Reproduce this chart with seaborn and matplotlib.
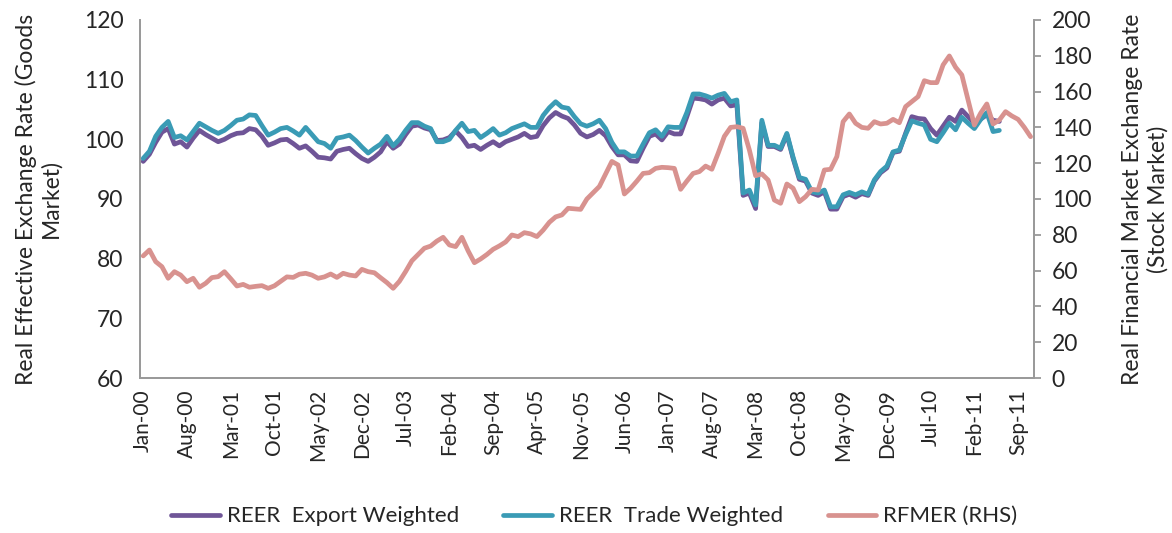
import numpy as np
import pandas as pd
import seaborn as sns
import matplotlib.pyplot as plt

sns.set_style("white")
plt.rcParams["font.family"] = ["Lato", "DejaVu Sans"]

# monthly categories Jan-00 .. Nov-11
months = pd.date_range("2000-01-01", periods=143, freq="MS").strftime("%b-%y").tolist()

reer_trade = [
    96.8, 98.0, 100.5, 102.0, 103.0, 100.3, 100.6, 99.9, 101.3, 102.7,
    102.1, 101.5, 101.0, 101.5, 102.3, 103.2, 103.4, 104.1, 104.0, 102.3,
    100.7, 101.2, 101.8, 102.0, 101.4, 100.7, 102.0, 100.8, 99.6, 99.3,
    98.5, 100.2, 100.4, 100.7, 99.8, 98.7, 97.7, 98.5, 99.2, 100.5,
    98.9, 100.0, 101.5, 102.8, 102.8, 102.2, 101.8, 99.6, 99.6, 100.0,
    101.5, 102.7, 101.3, 101.5, 100.3, 101.0, 101.8, 100.7, 101.1, 101.8,
    102.2, 102.6, 102.0, 102.0, 104.0, 105.3, 106.3, 105.4, 105.2, 103.8,
    102.6, 102.2, 102.6, 103.2, 101.8, 99.5, 97.9, 97.9, 97.2, 97.2,
    99.2, 101.1, 101.6, 100.5, 102.1, 102.0, 102.0, 104.5, 107.6, 107.6,
    107.3, 106.9, 107.4, 107.7, 106.3, 106.6, 91.0, 91.5, 89.0, 103.2,
    99.0, 99.0, 98.5, 101.0, 97.0, 93.6, 93.3, 91.2, 91.0, 91.5,
    88.7, 88.7, 90.7, 91.1, 90.7, 91.2, 90.8, 93.2, 94.6, 95.5,
    97.9, 98.2, 100.8, 103.1, 102.7, 102.4, 100.0, 99.6, 101.1, 102.7,
    101.6, 103.7, 102.7, 101.8, 103.3, 104.5, 101.3, 101.5,
]

reer_export = [
    96.3, 97.5, 99.5, 101.2, 101.8, 99.2, 99.6, 98.7, 100.2, 101.5,
    100.8, 100.2, 99.6, 100.0, 100.6, 101.0, 101.1, 101.8, 101.6, 100.5,
    99.0, 99.4, 99.9, 100.0, 99.3, 98.5, 98.9, 98.0, 97.0, 96.9,
    96.7, 98.0, 98.3, 98.5, 97.6, 96.8, 96.3, 97.0, 97.9, 99.6,
    98.5, 99.2, 100.8, 102.2, 102.4, 101.9, 101.6, 99.8, 99.9, 100.3,
    101.4, 100.3, 98.8, 99.0, 98.3, 99.0, 99.6, 98.9, 99.6, 100.0,
    100.4, 101.0, 100.3, 100.5, 102.3, 103.6, 104.5, 103.9, 103.5, 102.4,
    101.0, 100.4, 100.8, 101.5, 100.6, 98.8, 97.4, 97.4, 96.4, 96.3,
    98.5, 100.5, 100.9, 99.9, 101.3, 100.9, 100.9, 103.8, 106.9, 106.8,
    106.6, 105.9, 106.6, 106.9, 105.6, 105.8, 90.6, 91.0, 88.4, 102.8,
    98.8, 98.8, 98.3, 100.8, 96.8, 93.3, 93.0, 91.0, 90.6, 91.2,
    88.3, 88.3, 90.4, 90.8, 90.3, 90.9, 90.6, 93.0, 94.4, 95.2,
    97.8, 98.0, 101.0, 103.8, 103.5, 103.4, 101.8, 100.7, 102.2, 103.7,
    103.0, 104.9, 103.8, 102.7, 103.4, 104.1, 103.2, 103.0,
]

rfmer = [
    68.2, 71.5, 65.0, 62.2, 55.7, 59.4, 57.5, 53.8, 55.7, 50.7,
    52.9, 56.1, 56.6, 59.4, 55.5, 51.4, 52.3, 50.7, 51.2, 51.6,
    50.1, 51.5, 54.0, 56.5, 56.2, 58.0, 58.5, 57.5, 55.7, 56.5,
    58.1, 56.2, 58.5, 57.5, 57.0, 60.7, 59.4, 58.8, 56.0, 53.3,
    50.1, 54.0, 59.5, 65.5, 69.0, 72.5, 73.7, 76.5, 78.6, 74.3,
    73.4, 78.6, 71.0, 64.4, 66.5, 69.0, 71.9, 73.8, 76.0, 79.9,
    79.0, 81.2, 80.5, 79.0, 82.6, 87.0, 90.0, 91.1, 94.8, 94.5,
    94.2, 100.0, 103.5, 107.0, 114.0, 121.0, 119.0, 102.8, 106.0, 110.0,
    114.3, 114.7, 117.1, 117.7, 117.5, 117.1, 105.4, 110.0, 114.3, 115.3,
    118.4, 116.6, 125.5, 135.0, 140.0, 140.4, 139.5, 127.4, 113.0, 114.0,
    110.6, 99.4, 97.6, 108.4, 106.0, 98.5, 101.3, 105.4, 105.0, 116.2,
    116.6, 123.7, 143.2, 147.5, 142.3, 140.0, 139.5, 143.2, 141.9, 142.3,
    144.5, 142.6, 151.6, 154.4, 157.2, 166.1, 165.0, 165.0, 174.9, 179.9,
    173.6, 169.3, 155.3, 141.3, 147.9, 153.1, 141.9, 144.1, 148.8, 146.4,
    144.5, 140.0, 134.8,
]

left_ticks = [60, 70, 80, 90, 100, 110, 120]
right_ticks = [0, 20, 40, 60, 80, 100, 120, 140, 160, 180, 200]

purple = "#6F5597"
teal = "#3A9BB5"
pink = "#D8928F"
axis_grey = "#9A9A9A"

fig = plt.figure(figsize=(11.72, 5.33), dpi=100)
ax = fig.add_axes([0.1195, 0.2908, 0.7625, 0.6717])
ax2 = ax.twinx()

idx_export = np.arange(len(reer_export))
idx_trade = np.arange(len(reer_trade))
idx_rf = np.arange(len(rfmer))

sns.lineplot(x=idx_export, y=reer_export, ax=ax, color=purple, linewidth=3.4,
             label="REER  Export Weighted", legend=False)
sns.lineplot(x=idx_trade, y=reer_trade, ax=ax, color=teal, linewidth=3.4,
             label="REER  Trade Weighted", legend=False)
sns.lineplot(x=idx_rf, y=rfmer, ax=ax2, color=pink, linewidth=3.4,
             label="RFMER (RHS)", legend=False)

ax.set_xlim(-0.5, len(months) - 0.5)
ax.set_ylim(60, 120)
ax2.set_ylim(0, 200)
ax.set_yticks(left_ticks)
ax2.set_yticks(right_ticks)

tick_pos = np.arange(0, len(months), 7)
ax.set_xticks(tick_pos)
ax.set_xticklabels([months[i] for i in tick_pos], rotation=90)

for a in (ax, ax2):
    a.spines["top"].set_visible(False)
    for side in ("left", "right", "bottom"):
        a.spines[side].set_color(axis_grey)
        a.spines[side].set_linewidth(1.3)

ax.tick_params(axis="x", length=0, labelsize=15, pad=8)
ax.tick_params(axis="y", length=0, labelsize=16.5, pad=12)
ax2.tick_params(axis="y", length=5, width=1.3, color=axis_grey, labelsize=16.5, pad=8)

ax.set_ylabel("Real Effective Exchange Rate (Goods\nMarket)", fontsize=16.5, labelpad=16)
ax2.set_ylabel("Real Financial Market Exchange Rate\n(Stock Market)", fontsize=16.5, labelpad=22)

handles = ax.get_lines() + ax2.get_lines()
fig.legend(handles, [h.get_label() for h in handles], loc="lower center",
           bbox_to_anchor=(0.507, -0.025), ncol=3, frameon=False, fontsize=16,
           handlelength=2.2, columnspacing=2.0, handletextpad=0.3)

fig.savefig("out.png", dpi=100)
